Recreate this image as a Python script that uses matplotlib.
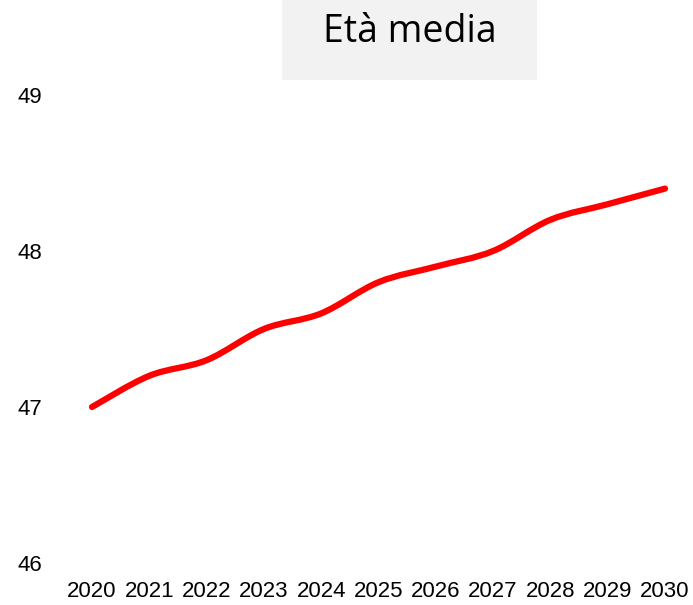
import numpy as np
import matplotlib
matplotlib.use('Agg')
import matplotlib.pyplot as plt
from matplotlib.path import Path
from matplotlib.patches import PathPatch, Rectangle

years = [2020, 2021, 2022, 2023, 2024, 2025, 2026, 2027, 2028, 2029, 2030]
eta_media = [47.0, 47.2, 47.3, 47.5, 47.6, 47.8, 47.9, 48.0, 48.2, 48.3, 48.4]
yticks = [46, 47, 48, 49]
title = 'Età media'

tick_font = ['Liberation Sans', 'DejaVu Sans']


def smooth_path(x, y):
    # excel-like smoothed line: catmull-rom segments as cubic beziers
    pts = np.column_stack([x, y]).astype(float)
    ext = np.vstack([pts[0], pts, pts[-1]])
    verts = [pts[0]]
    codes = [Path.MOVETO]
    for i in range(len(pts) - 1):
        p0, p1, p2, p3 = ext[i], ext[i+1], ext[i+2], ext[i+3]
        verts += [p1 + (p2 - p0)/6., p2 - (p3 - p1)/6., p2]
        codes += [Path.CURVE4]*3
    return Path(verts, codes)


fig = plt.figure(figsize=(6.93, 6.05), dpi=100)
ax = fig.add_axes([92/693, 42/605, 573/693, 468/605])
ax.set_xlim(years[0], years[-1])
ax.set_ylim(yticks[0], yticks[-1])

ax.add_patch(PathPatch(smooth_path(years, eta_media), facecolor='none', edgecolor='#ff0000',
                       lw=4.5, capstyle='round', clip_on=False))

for s in ax.spines.values():
    s.set_visible(False)
ax.set_xticks(years)
ax.set_xticklabels([str(y) for y in years], family=tick_font, fontsize=16)
ax.set_yticks(yticks)
ax.set_yticklabels([str(v) for v in yticks], family=tick_font, fontsize=16)
ax.tick_params(axis='x', length=0, pad=13)
ax.tick_params(axis='y', length=0, pad=36)

fig.patches.append(Rectangle((282/693, 1 - 80/605), 255/693, 80/605, transform=fig.transFigure,
                             facecolor='#f2f2f2', edgecolor='none', zorder=0))
fig.text(410/693, 1 - 32/605, title, ha='center', va='center', fontsize=27,
         family=['Open Sans', 'DejaVu Sans'])

plt.savefig('out.png', dpi=100)
